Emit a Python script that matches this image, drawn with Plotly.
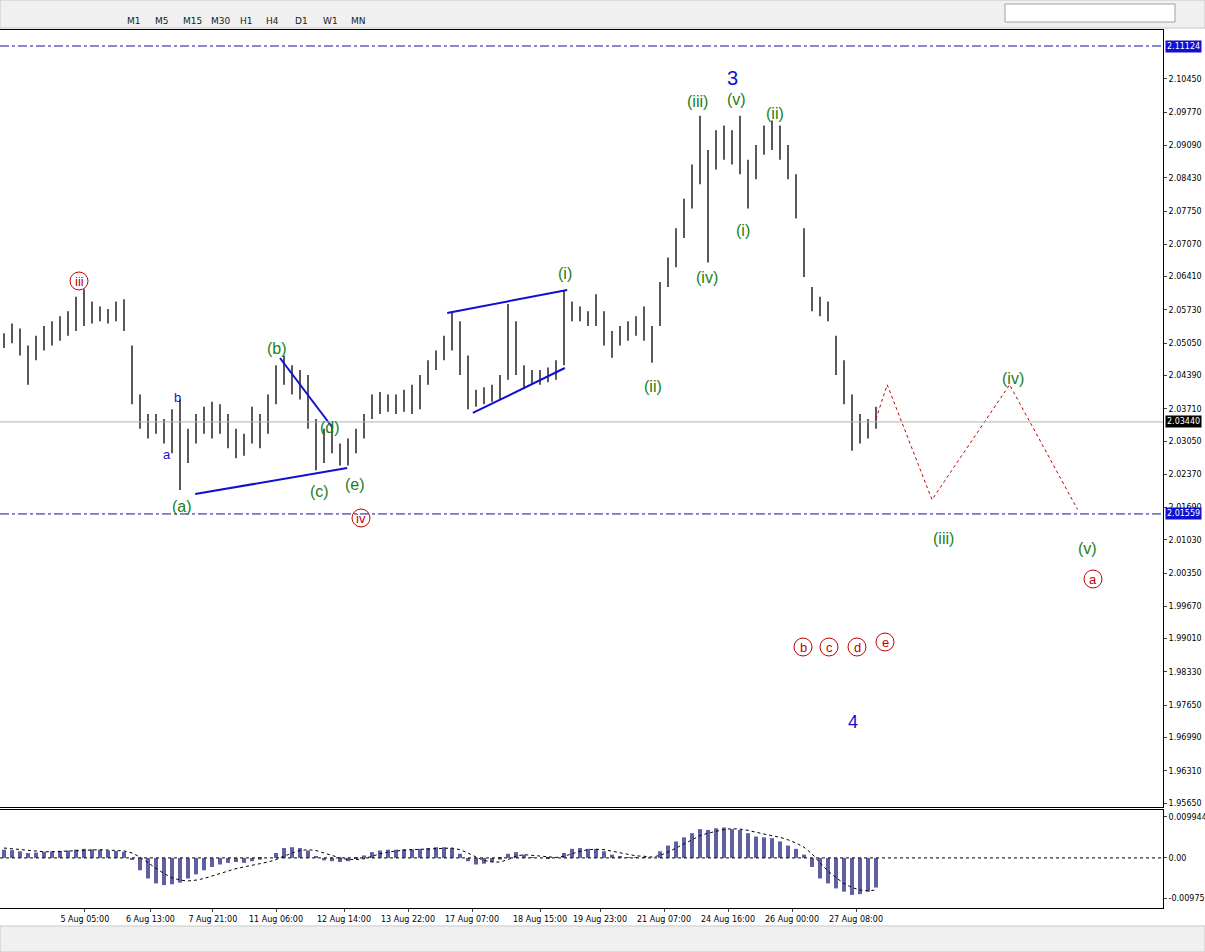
import plotly.graph_objs as go

W, H = 1205, 952

# bar data, one bar per step (index based)
lows = [2.0495, 2.0505, 2.0480, 2.0420, 2.0470, 2.0490, 2.0500, 2.0510, 2.0520, 2.0530,
        2.0540, 2.0545, 2.0550, 2.0545, 2.0550, 2.0530, 2.0380, 2.0330, 2.0310, 2.0320,
        2.0300, 2.0280, 2.0205, 2.0260, 2.0300, 2.0320, 2.0310, 2.0320, 2.0290, 2.0270,
        2.0275, 2.0300, 2.0290, 2.0320, 2.0380, 2.0420, 2.0400, 2.0390, 2.0330, 2.0245,
        2.0260, 2.0280, 2.0255, 2.0255, 2.0280, 2.0310, 2.0350, 2.0360, 2.0365, 2.0360,
        2.0365, 2.0360, 2.0370, 2.0420, 2.0450, 2.0470, 2.0490, 2.0440, 2.0370, 2.0375,
        2.0380, 2.0385, 2.0390, 2.0430, 2.0440, 2.0415, 2.0420, 2.0420, 2.0425, 2.0430,
        2.0460, 2.0550, 2.0550, 2.0540, 2.0540, 2.0500, 2.0475, 2.0500, 2.0510, 2.0520,
        2.0510, 2.0465, 2.0540, 2.0620, 2.0660, 2.0720, 2.0780, 2.0830, 2.0670, 2.0860,
        2.0880, 2.0870, 2.0850, 2.0780, 2.0840, 2.0890, 2.0900, 2.0880, 2.0840, 2.0760,
        2.0640, 2.0570, 2.0560, 2.0550, 2.0440, 2.0380, 2.0285, 2.0300, 2.0310, 2.0330]
highs = [2.0525, 2.0545, 2.0535, 2.0500, 2.0520, 2.0540, 2.0550, 2.0560, 2.0570, 2.0600,
         2.0615, 2.0590, 2.0580, 2.0575, 2.0590, 2.0595, 2.0500, 2.0400, 2.0360, 2.0360,
         2.0350, 2.0370, 2.0390, 2.0330, 2.0360, 2.0375, 2.0385, 2.0380, 2.0360, 2.0330,
         2.0320, 2.0375, 2.0360, 2.0400, 2.0460, 2.0480, 2.0460, 2.0450, 2.0440, 2.0350,
         2.0330, 2.0340, 2.0300, 2.0310, 2.0330, 2.0360, 2.0400, 2.0405, 2.0400, 2.0400,
         2.0410, 2.0420, 2.0440, 2.0470, 2.0490, 2.0520, 2.0570, 2.0550, 2.0480, 2.0410,
         2.0415, 2.0420, 2.0440, 2.0585, 2.0550, 2.0460, 2.0450, 2.0450, 2.0455, 2.0470,
         2.0612, 2.0590, 2.0580, 2.0570, 2.0605, 2.0570, 2.0530, 2.0540, 2.0550, 2.0560,
         2.0580, 2.0540, 2.0630, 2.0680, 2.0740, 2.0800, 2.0870, 2.0970, 2.0900, 2.0940,
         2.0950, 2.0940, 2.0970, 2.0880, 2.0910, 2.0950, 2.0960, 2.0950, 2.0910, 2.0850,
         2.0740, 2.0620, 2.0600, 2.0590, 2.0520, 2.0470, 2.0400, 2.0360, 2.0350, 2.0375]

macd_hist = [0.0020, 0.0019, 0.0016, 0.0012, 0.0013, 0.0015, 0.0016, 0.0017, 0.0018, 0.0020,
             0.0022, 0.0021, 0.0020, 0.0018, 0.0017, 0.0015, -0.0005, -0.0030, -0.0050, -0.0062,
             -0.0066, -0.0064, -0.0060, -0.0050, -0.0040, -0.0030, -0.0022, -0.0016, -0.0012, -0.0010,
             -0.0012, -0.0008, -0.0004, 0.0000, 0.0012, 0.0024, 0.0026, 0.0024, 0.0018, 0.0004,
             -0.0006, -0.0008, -0.0010, -0.0008, -0.0002, 0.0006, 0.0014, 0.0018, 0.0020, 0.0020,
             0.0021, 0.0021, 0.0022, 0.0024, 0.0026, 0.0026, 0.0024, 0.0010, -0.0008, -0.0016,
             -0.0014, -0.0010, -0.0004, 0.0010, 0.0014, 0.0008, 0.0002, 0.0000, -0.0001, 0.0000,
             0.0012, 0.0022, 0.0024, 0.0022, 0.0022, 0.0016, 0.0008, 0.0004, 0.0002, 0.0002,
             0.0002, 0.0000, 0.0016, 0.0030, 0.0040, 0.0050, 0.0060, 0.0070, 0.0068, 0.0072,
             0.0074, 0.0070, 0.0068, 0.0060, 0.0052, 0.0050, 0.0048, 0.0040, 0.0030, 0.0022,
             0.0008, -0.0022, -0.0050, -0.0062, -0.0074, -0.0082, -0.0090, -0.0088, -0.0082, -0.0072]
macd_signal = [0.0024, 0.0022, 0.0020, 0.0018, 0.0016, 0.0015, 0.0015, 0.0016, 0.0017, 0.0018,
               0.0019, 0.0020, 0.0020, 0.0019, 0.0018, 0.0017, 0.0012, 0.0002, -0.0012, -0.0026,
               -0.0038, -0.0048, -0.0054, -0.0056, -0.0054, -0.0050, -0.0044, -0.0038, -0.0032, -0.0026,
               -0.0022, -0.0018, -0.0014, -0.0010, -0.0004, 0.0004, 0.0012, 0.0018, 0.0020, 0.0018,
               0.0012, 0.0006, 0.0000, -0.0004, -0.0004, -0.0002, 0.0004, 0.0010, 0.0014, 0.0017,
               0.0019, 0.0020, 0.0021, 0.0022, 0.0023, 0.0024, 0.0024, 0.0020, 0.0012, 0.0002,
               -0.0006, -0.0010, -0.0010, -0.0004, 0.0004, 0.0008, 0.0006, 0.0004, 0.0002, 0.0001,
               0.0004, 0.0010, 0.0016, 0.0020, 0.0021, 0.0020, 0.0016, 0.0012, 0.0008, 0.0005,
               0.0004, 0.0002, 0.0006, 0.0014, 0.0024, 0.0034, 0.0044, 0.0054, 0.0060, 0.0065,
               0.0069, 0.0071, 0.0070, 0.0067, 0.0062, 0.0058, 0.0054, 0.0050, 0.0044, 0.0036,
               0.0026, 0.0010, -0.0012, -0.0032, -0.0048, -0.0062, -0.0072, -0.0078, -0.0080, -0.0078]

# projected path (dotted red)
proj_x = [109, 110.4, 116.0, 125.7, 134.2]
proj_y = [2.0350, 2.0420, 2.0185, 2.0420, 2.0165]

# blue trendlines as (x0, y0, x1, y1)
trendlines = [(23.9, 2.01966, 42.9, 2.02498),
              (34.5, 2.04747, 41.1, 2.03316),
              (55.4, 2.05667, 70.4, 2.06137),
              (58.6, 2.03623, 70.1, 2.04542)]

tick_pos = [10.1, 18.3, 26.1, 34.0, 42.5, 50.5, 58.5, 67.0, 74.5, 82.5, 90.5, 98.5, 106.5]
tick_text = ['5 Aug 05:00', '6 Aug 13:00', '7 Aug 21:00', '11 Aug 06:00', '12 Aug 14:00',
             '13 Aug 22:00', '17 Aug 07:00', '18 Aug 15:00', '19 Aug 23:00', '21 Aug 07:00',
             '24 Aug 16:00', '26 Aug 00:00', '27 Aug 08:00']
price_ticks = [2.10450, 2.09770, 2.09090, 2.08430, 2.07750, 2.07070, 2.06410, 2.05730, 2.05050,
               2.04390, 2.03710, 2.03050, 2.02370, 2.01690, 2.01030, 2.00350, 1.99670, 1.99010,
               1.98330, 1.97650, 1.96990, 1.96310, 1.95650]

n = len(lows)
bx, by = [], []
for i in range(n):
    bx += [i, i, None]
    by += [lows[i], highs[i], None]

fig = go.Figure()
fig.add_trace(go.Scatter(x=bx, y=by, mode='lines', line=dict(color='black', width=1.3),
                         hoverinfo='skip', xaxis='x', yaxis='y'))
for x0, y0, x1, y1 in trendlines:
    fig.add_trace(go.Scatter(x=[x0, x1], y=[y0, y1], mode='lines',
                             line=dict(color='#1010d0', width=2), xaxis='x', yaxis='y'))
fig.add_trace(go.Scatter(x=proj_x, y=proj_y, mode='lines',
                         line=dict(color='#c00000', width=1, dash='dot'), xaxis='x', yaxis='y'))
fig.add_trace(go.Bar(x=list(range(n)), y=macd_hist, marker=dict(color='#6060a0', line_width=0),
                     width=0.5, xaxis='x2', yaxis='y2'))
fig.add_trace(go.Scatter(x=list(range(n)), y=macd_signal, mode='lines',
                         line=dict(color='black', width=1, dash='dot'), xaxis='x2', yaxis='y2'))

xr = [-0.5, 1163 / 8 - 0.5]
pw = 1163 / W
tf = dict(size=8, family='Verdana, DejaVu Sans', color='black')
layout = dict(
    width=W, height=H, margin=dict(l=0, r=0, t=0, b=0, autoexpand=False),
    paper_bgcolor='white', plot_bgcolor='white', showlegend=False,
    font=dict(family='DejaVu Sans', size=9, color='black'),
    xaxis=dict(domain=[0, pw], range=xr, showgrid=False, showticklabels=False, zeroline=False,
               showline=True, linecolor='black', mirror=True, anchor='y', automargin=False),
    yaxis=dict(domain=[1 - 807 / H, 1 - 30 / H], range=[1.95569, 2.11451], side='right',
               tickvals=price_ticks, ticktext=['%.5f' % v for v in price_ticks], tickfont=tf,
               ticks='outside', ticklen=3, showgrid=False, zeroline=False, automargin=False,
               showline=True, linecolor='black', mirror=True, anchor='x'),
    xaxis2=dict(domain=[0, pw], range=xr, showgrid=False, zeroline=False, tickvals=tick_pos,
                ticktext=tick_text, ticks='outside', ticklen=3, showline=True, tickangle=0,
                tickfont=tf, automargin=False,
                linecolor='black', mirror=True, anchor='y2'),
    yaxis2=dict(domain=[1 - 908 / H, 1 - 810 / H], range=[-0.01217, 0.01164], side='right',
                tickvals=[0.009944, 0.0, -0.00975], ticktext=['0.009944', '0.00', '-0.00975'],
                ticks='outside', ticklen=3, showgrid=False, zeroline=False, tickfont=tf,
                automargin=False, showline=True, linecolor='black', mirror=True, anchor='x2'),
)
fig.update_layout(layout)

# horizontal levels
for lvl, col, dash in [(2.11124, '#1010a0', 'dashdot'), (2.01559, '#1010a0', 'dashdot'),
                       (2.03440, '#b0b0b0', 'solid')]:
    fig.add_shape(type='line', xref='x', yref='y', x0=xr[0], x1=xr[1], y0=lvl, y1=lvl,
                  line=dict(color=col, width=1, dash=dash))
fig.add_shape(type='line', xref='x2', yref='y2', x0=xr[0], x1=xr[1], y0=0, y1=0,
              line=dict(color='black', width=1, dash='dot'))

for lvl, bg in [(2.11124, '#1010d0'), (2.01559, '#1010d0'), (2.03440, 'black')]:
    fig.add_annotation(xref='paper', yref='y', x=pw + 0.002, y=lvl, xanchor='left', text='%.5f' % lvl,
                       showarrow=False, bgcolor=bg, font=dict(color='white', size=8, family='Verdana, DejaVu Sans'),
                       borderpad=1)


def px(x, y):
    return x / W, 1 - y / H


def label(t, x, y, color, size):
    ax, ay = px(x, y)
    fig.add_annotation(xref='paper', yref='paper', x=ax, y=ay, text=t, showarrow=False,
                       xanchor='center', yanchor='middle',
                       font=dict(color=color, size=size, family='Arial'))


labels = [('(iii)', 697, 102), ('(v)', 736, 100), ('(ii)', 775, 113),
          ('(i)', 743, 230), ('(iv)', 707, 277), ('(i)', 565, 273),
          ('(ii)', 653, 386), ('(b)', 277, 348), ('(d)', 330, 428),
          ('(c)', 319, 491), ('(e)', 355, 484), ('(a)', 182, 506),
          ('(iii)', 943, 538), ('(iv)', 1013, 379), ('(v)', 1087, 548)]
for t, x, y in labels:
    label(t, x, y, '#208020', 16)
for t, x, y, s in [('3', 733, 78, 20), ('4', 853, 722, 18), ('b', 177, 397, 13), ('a', 167, 454, 13)]:
    label(t, x, y, '#1010d0', s)
for t, x, y in [('iii', 79, 281), ('iv', 361, 518), ('a', 1093, 579), ('b', 803, 647),
                ('c', 829, 647), ('d', 857, 647), ('e', 885, 642)]:
    fig.add_shape(type='circle', xref='paper', yref='paper', x0=(x - 9) / W, x1=(x + 9) / W,
                  y0=1 - (y + 9) / H, y1=1 - (y - 9) / H, line=dict(color='#c00000', width=1))
    label(t, x, y, '#c00000', 13)

# toolbar and bottom strip
fig.add_shape(type='rect', xref='paper', yref='paper', x0=0, x1=1, y0=1 - 28 / H, y1=1,
              fillcolor='#f0f0f0', line=dict(color='#c8c8c8', width=1), layer='below')
fig.add_shape(type='rect', xref='paper', yref='paper', x0=0, x1=1, y0=0, y1=1 - 926 / H,
              fillcolor='#f0f0f0', line=dict(color='#c8c8c8', width=1), layer='below')
fig.add_shape(type='rect', xref='paper', yref='paper', x0=1005 / W, x1=1175 / W,
              y0=1 - 22 / H, y1=1 - 4 / H, fillcolor='white', line=dict(color='#a0a0a0', width=1))
for t, x in [('M1', 125), ('M5', 153), ('M15', 181), ('M30', 209), ('H1', 238), ('H4', 264),
             ('D1', 293), ('W1', 321), ('MN', 349)]:
    ax, ay = px(x, 14)
    fig.add_annotation(xref='paper', yref='paper', x=ax, y=ay, text=t, showarrow=False,
                       font=dict(size=9, color='#202020'))

fig.write_html("out.html", config={'displayModeBar': False},
               post_script="document.body.style.margin='0';")
